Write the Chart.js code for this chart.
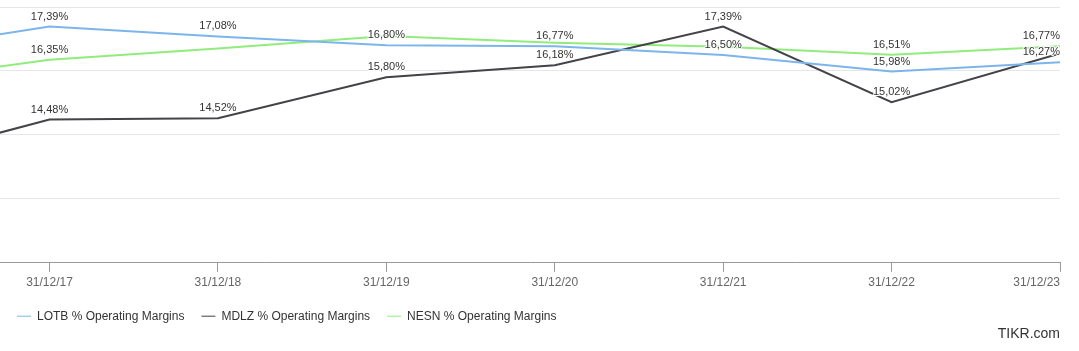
<!DOCTYPE html>
<html>
<head>
<meta charset="utf-8">
<script src="https://cdn.jsdelivr.net/npm/chart.js@4.4.1/dist/chart.umd.min.js"></script>
<style>
  body { margin: 0; background: #fff; }
  .wrap { position: relative; width: 1079px; height: 351px; }
</style>
</head>
<body>
<div class="wrap"><canvas id="chart"></canvas></div>
<script>
// year-end dates, first one sits just off the left edge
const categories = ['31/12/16', '31/12/17', '31/12/18', '31/12/19', '31/12/20', '31/12/21', '31/12/22', '31/12/23']
const lotb = [16.57, 17.39, 17.08, 16.80, 16.77, 16.50, 15.98, 16.27]
const mdlz = [13.09, 14.48, 14.52, 15.80, 16.18, 17.39, 15.02, 16.55]
const nesn = [15.64, 16.35, 16.70, 17.09, 16.88, 16.76, 16.51, 16.77]
const yTicks = [10, 12, 14, 16, 18]

const fontFamily = '"Liberation Sans", Arial, sans-serif'
Chart.defaults.font.family = fontFamily

const fmt = v => v.toFixed(2).replace('.', ',') + '%'
const toPoints = arr => arr.map((v, i) => ({ x: i, y: v }))

// value labels above each point, hiding the ones that would collide
const pointLabels = {
    id: 'pointLabels',
    afterDatasetsDraw(chart) {
        const { ctx, chartArea } = chart
        const placed = []
        ctx.save()
        ctx.font = '11px ' + fontFamily
        ctx.textBaseline = 'middle'
        ctx.textAlign = 'left'
        chart.data.datasets.forEach((ds, i) => {
            chart.getDatasetMeta(i).data.forEach((pt, j) => {
                if (pt.x < chartArea.left || pt.x > chartArea.right + 1) return
                const text = fmt(ds.data[j].y)
                const w = ctx.measureText(text).width
                const left = Math.min(Math.max(pt.x - w / 2, chartArea.left), chartArea.right - w)
                const cy = pt.y - 10
                const box = { l: left, r: left + w, t: cy - 7, b: cy + 7 }
                if (placed.some(p => p.l < box.r && box.l < p.r && p.t < box.b && box.t < p.b)) return
                placed.push(box)
                ctx.lineWidth = 2
                ctx.lineJoin = 'round'
                ctx.strokeStyle = '#fff'
                ctx.strokeText(text, left, cy)
                ctx.fillStyle = '#333'
                ctx.fillText(text, left, cy)
            })
        })
        ctx.restore()
    }
}

const xMin = 0.706

new Chart(document.getElementById('chart'), {
    type: 'line',
    data: {
        datasets: [
            { label: 'LOTB % Operating Margins', data: toPoints(lotb), borderColor: '#7cb5ec', backgroundColor: '#7cb5ec' },
            { label: 'MDLZ % Operating Margins', data: toPoints(mdlz), borderColor: '#434348', backgroundColor: '#434348' },
            { label: 'NESN % Operating Margins', data: toPoints(nesn), borderColor: '#90ed7d', backgroundColor: '#90ed7d' }
        ]
    },
    options: {
        responsive: true,
        maintainAspectRatio: false,
        animation: false,
        events: [],
        elements: {
            line: { borderWidth: 2, tension: 0, fill: false },
            point: { radius: 0, hoverRadius: 0 }
        },
        layout: { autoPadding: false, padding: { top: 7, right: 19, left: 0, bottom: 0 } },
        scales: {
            x: {
                type: 'linear',
                min: xMin,
                max: categories.length - 1,
                afterBuildTicks: axis => {
                    axis.ticks = [{ value: xMin }].concat(categories.map((c, i) => ({ value: i })).filter(t => t.value >= 1))
                },
                afterFit: s => {
                    s.height -= 1
                    s.paddingLeft = 0
                },
                ticks: {
                    autoSkip: false,
                    maxRotation: 0,
                    align: 'inner',
                    padding: 4,
                    color: '#666',
                    font: { size: 12 },
                    callback: v => Number.isInteger(v) ? categories[v] : ''
                },
                grid: {
                    drawOnChartArea: false,
                    tickLength: 9,
                    tickColor: c => (c.tick && c.tick.value < 1) ? 'rgba(0,0,0,0)' : '#999'
                },
                border: { color: '#999' }
            },
            y: {
                min: 10,
                max: 18,
                afterBuildTicks: axis => { axis.ticks = yTicks.map(v => ({ value: v })) },
                afterFit: s => { s.width = 0 },
                ticks: { display: false },
                grid: { color: '#e6e6e6', drawTicks: false },
                border: { display: false }
            }
        },
        plugins: {
            legend: {
                position: 'bottom',
                align: 'start',
                maxHeight: 33,
                labels: {
                    usePointStyle: true,
                    pointStyle: 'line',
                    pointStyleWidth: 14,
                    padding: 17,
                    color: '#333',
                    font: { size: 12 }
                }
            },
            title: {
                display: true,
                text: 'TIKR.com',
                position: 'bottom',
                align: 'end',
                color: '#333',
                font: { size: 14, weight: 'normal' },
                padding: { top: 0, bottom: 8 }
            },
            tooltip: { enabled: false }
        }
    },
    plugins: [pointLabels]
})
</script>
</body>
</html>
